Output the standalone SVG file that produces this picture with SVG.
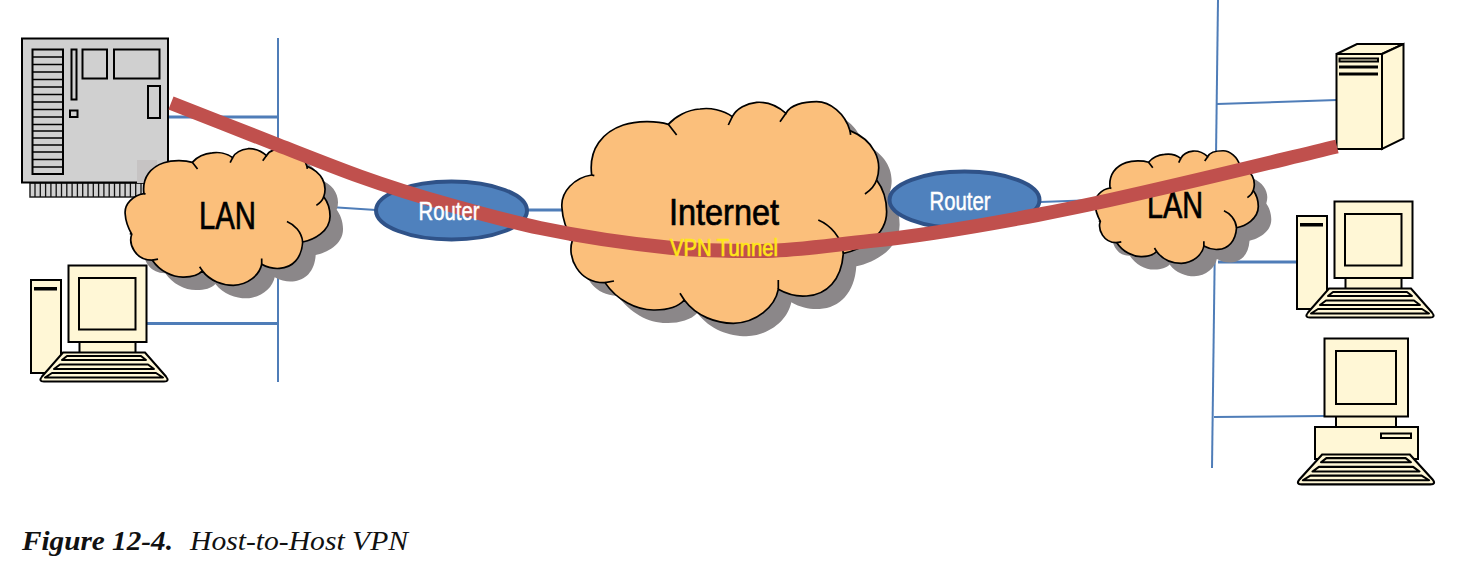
<svg xmlns="http://www.w3.org/2000/svg" width="1459" height="567" viewBox="0 0 1459 567">
<style>
.ln{fill:none;stroke:#4f7db8;stroke-width:2}
.ln3{fill:none;stroke:#4f7db8;stroke-width:3}
.cr{fill:#fff7d6;stroke:#000;stroke-width:2}
.gr{fill:#d0d0d0;stroke:#000;stroke-width:2}
#co,#tails{vector-effect:non-scaling-stroke}
.cl{fill:#fbbf7b;stroke:#000;stroke-width:1.700}
.ct{fill:none;stroke:#000;stroke-width:1.700}
.sh{fill:#8b8789;stroke:none}
.rt{fill:#4f81bd;stroke:#2f5288;stroke-width:4}
.t{font-family:"Liberation Sans Narrow","Liberation Sans",sans-serif;fill:#000;stroke:#000;stroke-width:.7}
.w{fill:#fff;stroke:#fff;stroke-width:.5}
.y{fill:#ffe61a;stroke:#ffe61a;stroke-width:.7}
.tun{fill:none;stroke:#c0504d;stroke-width:14}
.cap{font-family:"Liberation Serif",serif;font-size:27px;font-style:italic;fill:#111}
</style>
<defs>
<filter id="soft" x="-5%" y="-5%" width="110%" height="110%"><feGaussianBlur stdDeviation="1.2"/></filter>
<path id="co" d="M155,255C105,262 60,305 66,355C68,395 85,430 97,452C80,500 115,580 195,578C230,630 290,662 345,660C380,660 415,650 433,630C470,680 530,700 580,700C650,698 705,650 715,598C745,615 775,620 800,618C860,615 905,570 910,490C960,480 1040,440 1040,365C1040,325 1025,290 1010,270C1030,210 1000,150 930,122C915,70 870,35 830,35C790,35 750,45 738,70C710,45 680,35 650,37C620,40 590,55 577,80C550,60 510,52 480,57C440,60 405,80 385,103C350,92 290,92 250,105C190,125 145,175 155,255Z"/>
<path id="tails" d="M155,255L163,257M97,452L88,448M195,578L222,573M433,630L420,610M715,598L715,570M910,490C905,440 870,405 835,390M1010,270C1005,285 990,302 975,312M930,122L932,135M738,70L720,95M577,80L565,105M385,103L410,135"/>
<g id="cloud"><use href="#co" class="cl"/><use href="#tails" class="ct"/></g>
<g id="kbd">
<path class="cr" d="M-41,0L41,0L62,24Q66,29 60,29L-60,29Q-66,29 -62,24Z"/>
<path class="cr" stroke-linejoin="round" d="M-37,3.500L37,3.500L42,7.500L-42,7.500ZM-44,12L44,12L50,16.500L-50,16.500ZM-52,20.500L52,20.500L59,25L-59,25Z"/>
</g>
<g id="towerpc">
<rect class="cr" x="31" y="280" width="30" height="93"/>
<rect x="34" y="287" width="23" height="3.500" fill="#000"/>
<rect class="cr" x="79.500" y="340" width="56" height="14"/>
<rect class="cr" x="68.500" y="265.500" width="78" height="76.500"/>
<rect class="cr" x="79" y="278" width="56.500" height="51.500"/>
<use href="#kbd" x="104" y="352.500"/>
</g>
</defs>

<g id="connectors">
<path class="ln" d="M278,38V382"/>
<path class="ln3" d="M168,117H278"/>
<path class="ln3" d="M146,323.500H278"/>
<path class="ln" d="M330,207L376,210"/>
<path class="ln3" d="M527,210H563"/>
<path class="ln" d="M1040,202L1096,200"/>
<path class="ln" d="M1218,0L1212,468"/>
<path class="ln" d="M1217,104L1337,100"/>
<path class="ln3" d="M1218,262H1298"/>
<path class="ln" d="M1214,417L1325,416"/>
</g>

<g id="server-board">
<rect x="30" y="183" width="116" height="14" fill="#d0d0d0" stroke="#222" stroke-width="1.500"/>
<path d="M35,183V197M40.300,183V197M45.600,183V197M50.900,183V197M56.200,183V197M61.500,183V197M66.800,183V197M72.100,183V197M77.400,183V197M82.700,183V197M88,183V197M93.300,183V197M98.600,183V197M103.900,183V197M109.200,183V197M114.500,183V197M119.800,183V197M125.100,183V197M130.400,183V197M135.700,183V197M141,183V197" stroke="#111" stroke-width="1.300" fill="none"/>
<rect class="gr" x="22" y="38.500" width="146" height="144"/>
<rect x="137" y="160" width="20" height="23" fill="#c6c3c3"/>
<rect class="gr" x="32.500" y="49.500" width="30.500" height="124.500"/>
<path d="M32.500,57H63M32.500,64.500H63M32.500,72H63M32.500,79.500H63M32.500,87H63M32.500,94.500H63M32.500,102H63M32.500,109.500H63M32.500,117H63M32.500,124.500H63M32.500,138H63M32.500,131H63M32.500,145H63M32.500,152H63M32.500,159.500H63M32.500,167H63" stroke="#000" stroke-width="1.500" fill="none"/>
<rect class="gr" x="71.500" y="49.500" width="5" height="50"/>
<rect class="gr" x="82.500" y="49.500" width="24.500" height="29"/>
<rect class="gr" x="114" y="49.500" width="45.500" height="29"/>
<rect class="gr" x="148" y="86" width="12" height="32"/>
<rect class="gr" x="70" y="110.500" width="7.500" height="6.500"/>
</g>

<g id="pc-left"><use href="#towerpc"/></g>

<g id="lan-left">
<use href="#co" class="sh" filter="url(#soft)" transform="translate(124.330,154.100) scale(.2103,.206)"/>
<use href="#cloud" transform="translate(111.330,141.100) scale(.2103,.206)"/>
<text class="t" x="199" y="229" font-size="38" textLength="57" lengthAdjust="spacingAndGlyphs">LAN</text>
</g>

<g id="internet">
<use href="#co" class="sh" filter="url(#soft)" transform="translate(553,103) scale(.3333)"/>
<use href="#cloud" transform="translate(540,90) scale(.3333)"/>
<text class="t" x="669" y="225" font-size="36" textLength="110" lengthAdjust="spacingAndGlyphs">Internet</text>
</g>

<g id="lan-right">
<use href="#co" class="sh" filter="url(#soft)" transform="translate(1097.100,157.800) scale(.1675,.1693)"/>
<use href="#cloud" transform="translate(1084.100,144.800) scale(.1675,.1693)"/>
<text class="t" x="1147" y="218" font-size="37" textLength="56" lengthAdjust="spacingAndGlyphs">LAN</text>
</g>

<g id="router-left">
<ellipse class="rt" cx="451.500" cy="210.500" rx="75.500" ry="29"/>
</g>
<g id="router-right">
<ellipse class="rt" cx="964.500" cy="200" rx="75" ry="28.500"/>
</g>

<g id="server-tower">
<path class="cr" d="M1336.500,54L1357,44H1403.500L1382,54Z"/>
<path class="cr" d="M1382,54L1403.500,44V138.500L1382,149Z"/>
<rect class="cr" x="1336.500" y="54" width="45.500" height="95"/>
<rect class="cr" x="1339.500" y="58.500" width="38.500" height="3"/>
<rect x="1339" y="65.500" width="39" height="3" fill="#000"/>
<rect x="1339" y="72.500" width="39" height="3" fill="#000"/>
</g>

<g id="pc-right-1"><use href="#towerpc" x="1266" y="-64"/></g>

<g id="pc-right-2">
<rect class="cr" x="1336" y="415" width="60" height="13"/>
<rect class="cr" x="1324.500" y="338.500" width="83.500" height="78"/>
<rect class="cr" x="1336" y="351" width="60" height="53"/>
<rect class="cr" x="1315" y="427" width="103" height="32"/>
<rect class="cr" x="1381" y="433.500" width="30" height="4.500"/>
<use href="#kbd" transform="translate(1366,454.500) scale(1.07,1.03)"/>
</g>

<g id="tunnel">
<path class="tun" d="M171,103C207,117 242,131 278,145C305,155.500 333,166.700 360,176.500C390,187.300 420,196.600 450,205C480,213.400 510,221.700 540,228C583,237 627,243.400 670,247.700C700,250.700 730,251 760,251C797,251 833,244.700 870,241C926,235.400 981,225.600 1037,215C1061,210.400 1086,205.300 1110,200C1186,183.300 1261,164.700 1337,146.500"/>
</g>
<text class="t w" x="418.500" y="219.500" font-size="25" textLength="61" lengthAdjust="spacingAndGlyphs">Router</text>
<text class="t w" x="929.500" y="210" font-size="25" textLength="61" lengthAdjust="spacingAndGlyphs">Router</text>
<text class="t y" x="670" y="256" font-size="23" textLength="108" lengthAdjust="spacingAndGlyphs">VPN Tunnel</text>
<text class="cap" x="22" y="550" font-weight="bold" textLength="151" lengthAdjust="spacingAndGlyphs">Figure 12-4.</text>
<text class="cap" x="190" y="550" textLength="218" lengthAdjust="spacingAndGlyphs">Host-to-Host VPN</text>
</svg>
